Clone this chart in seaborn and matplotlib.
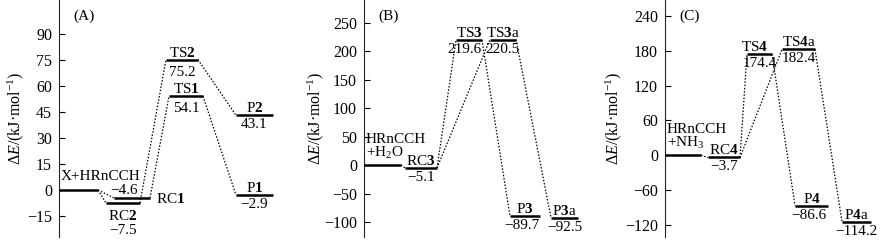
import matplotlib
matplotlib.use("Agg")
import matplotlib.pyplot as plt
import numpy as np
import pandas as pd
import seaborn as sns

# ---------------- data ----------------
# Panel A: X + HRnCCH
a_levels = ["start", "RC2", "RC1", "TS2", "TS1", "P2", "P1"]
a_energy = [0.0, -7.5, -4.6, 75.2, 54.1, 43.1, -2.9]
a_names = ["X+HRnCCH", r"RC$\mathbf{2}$", r"RC$\mathbf{1}$", r"TS$\mathbf{2}$",
           r"TS$\mathbf{1}$", r"P$\mathbf{2}$", r"P$\mathbf{1}$"]
a_paths = [("start", "RC2"), ("start", "RC1"), ("RC2", "TS2"), ("RC1", "TS1"),
           ("TS2", "P2"), ("TS1", "P1")]
a_ticks = [-15, 0, 15, 30, 45, 60, 75, 90]

# Panel B: HRnCCH + H2O
b_levels = ["start", "RC3", "TS3", "TS3a", "P3", "P3a"]
b_energy = [0.0, -5.1, 219.6, 220.5, -89.7, -92.5]
b_names = ["HRnCCH", r"RC$\mathbf{3}$", r"TS$\mathbf{3}$", r"TS$\mathbf{3}$a",
           r"P$\mathbf{3}$", r"P$\mathbf{3}$a"]
b_paths = [("start", "RC3"), ("RC3", "TS3"), ("RC3", "TS3a"), ("TS3", "P3"),
           ("TS3a", "P3a")]
b_ticks = [-100, -50, 0, 50, 100, 150, 200, 250]

# Panel C: HRnCCH + NH3
c_levels = ["start", "RC4", "TS4", "TS4a", "P4", "P4a"]
c_energy = [0.0, -3.7, 174.4, 182.4, -86.6, -114.2]
c_names = ["HRnCCH", r"RC$\mathbf{4}$", r"TS$\mathbf{4}$", r"TS$\mathbf{4}$a",
           r"P$\mathbf{4}$", r"P$\mathbf{4}$a"]
c_paths = [("start", "RC4"), ("RC4", "TS4"), ("RC4", "TS4a"), ("TS4", "P4"),
           ("TS4a", "P4a")]
c_ticks = [-120, -60, 0, 60, 120, 180, 240]

panel_tags = ["(A)", "(B)", "(C)"]
ylabel = r"Δ$E$/(kJ·mol$^{-1}$)"

# ---------------- layout (pixel offsets from each y-axis spine) ----------------
W, H, DPI = 886, 247, 100
a_span = {"start": (0, 39), "RC2": (47, 81), "RC1": (55, 91), "TS2": (107, 139),
          "TS1": (110, 144), "P2": (177, 214), "P1": (177, 214)}
b_span = {"start": (0, 37), "RC3": (41, 73), "TS3": (92, 118), "TS3a": (126, 152),
          "P3": (146, 176), "P3a": (187, 214)}
c_span = {"start": (0, 36), "RC4": (43, 75), "TS4": (82, 107), "TS4a": (117, 150),
          "P4": (130, 163), "P4a": (177, 206)}

panels = [
    dict(levels=a_levels, energy=a_energy, names=a_names, paths=a_paths, ticks=a_ticks,
         span=a_span, spine=59, right=290, ylim=(-27.1, 109.6), ylab_px=-33,
         start_extra=None, start_dy=10,
         name_over={"RC1": (6, -1, "left", "center"),
                    "RC2": (0, -6, "center", "top")},
         value_over={"RC1": (-8, 4, "center", "baseline"),
                     "RC2": (0, -21, "center", "top"),
                     "TS2": (0, -6, "center", "top"),
                     "TS1": (0, -6, "center", "top")}),
    dict(levels=b_levels, energy=b_energy, names=b_names, paths=b_paths, ticks=b_ticks,
         span=b_span, spine=364, right=590, ylim=(-126.4, 289.9), ylab_px=-38,
         start_extra=r"+H$_2$O", start_dy=22,
         name_over={}, value_over={"TS3": (-4, -3, "center", "top"),
                                   "P3": (-3, -3, "center", "top")}),
    dict(levels=c_levels, energy=c_energy, names=c_names, paths=c_paths, ticks=c_ticks,
         span=c_span, spine=665, right=886, ylim=(-140.7, 267.5), ylab_px=-41,
         start_extra=r"+NH$_3$", start_dy=22,
         name_over={"TS4": (-5, 3, "center", "baseline")},
         value_over={"P4": (-3, -3, "center", "top")}),
]

# ---------------- style ----------------
sns.set_theme(style="ticks")
plt.rcParams.update({
    "font.family": ["Liberation Serif", "DejaVu Serif"],
    "mathtext.fontset": "custom",
    "mathtext.rm": "Liberation Serif",
    "mathtext.it": "Liberation Serif:italic",
    "mathtext.bf": "Liberation Serif:bold",
    "axes.unicode_minus": True,
    "font.size": 11,
    "text.color": "black",
    "axes.labelcolor": "black",
    "xtick.color": "black",
    "ytick.color": "black",
})
FS = 11        # annotation text
FS_TICK = 11.5
FS_LAB = 11.5

fig = plt.figure(figsize=(W / DPI, H / DPI), dpi=DPI)

for p, tag in zip(panels, panel_tags):
    left, right = p["spine"], p["right"]
    ax = fig.add_axes([left / W, 10 / H, (right - left) / W, 237 / H])
    E = dict(zip(p["levels"], p["energy"]))

    # level bars
    rows = []
    for lv in p["levels"]:
        x0, x1 = p["span"][lv]
        rows += [dict(seg=lv, x=x0, E=E[lv]), dict(seg=lv, x=x1, E=E[lv])]
    df_lv = pd.DataFrame(rows)
    sns.lineplot(data=df_lv, x="x", y="E", units="seg", estimator=None, sort=False,
                 color="black", lw=1.8, solid_capstyle="butt", ax=ax, zorder=3)

    # dotted connectors
    rows = []
    for i, (a, b) in enumerate(p["paths"]):
        rows += [dict(seg=i, x=p["span"][a][1], E=E[a]),
                 dict(seg=i, x=p["span"][b][0], E=E[b])]
    df_cn = pd.DataFrame(rows)
    sns.lineplot(data=df_cn, x="x", y="E", units="seg", estimator=None, sort=False,
                 color="black", lw=0.9, linestyle=(0, (1.2, 1.4)), ax=ax, zorder=2)

    ax.set_xlim(0, right - left)
    ax.set_ylim(*p["ylim"])
    ax.set_yticks(p["ticks"])
    ax.set_xticks([])
    ax.set_xlabel("")
    ax.set_ylabel(ylabel, fontsize=FS_LAB)
    ax.yaxis.set_label_coords(p["ylab_px"] / (right - left), 0.5)
    sns.despine(ax=ax, bottom=True)
    ax.spines["left"].set_linewidth(0.8)
    ax.tick_params(axis="y", direction="in", length=4.5, width=0.8, pad=5,
                   labelsize=FS_TICK)
    ax.patch.set_alpha(0)

    # labels
    for lv, nm in zip(p["levels"], p["names"]):
        x0, x1 = p["span"][lv]
        xc = (x0 + x1) / 2
        e = E[lv]
        if lv == "start":
            ax.annotate(nm, xy=(x0, e), xytext=(2, p["start_dy"]),
                        textcoords="offset pixels", ha="left", va="baseline",
                        fontsize=FS)
            if p["start_extra"]:
                ax.annotate(p["start_extra"], xy=(x0, e), xytext=(2, 8),
                            textcoords="offset pixels", ha="left", va="baseline",
                            fontsize=FS)
            continue
        dx, dy, ha, va = p["name_over"].get(lv, (0, 3, "center", "baseline"))
        xa = x1 if ha == "left" else xc
        ax.annotate(nm, xy=(xa, e), xytext=(dx, dy), textcoords="offset pixels",
                    ha=ha, va=va, fontsize=FS)
        vtxt = f"{e:.1f}".replace("-", "\u2212")
        dx, dy, ha, va = p["value_over"].get(lv, (0, -3, "center", "top"))
        ax.annotate(vtxt, xy=(xc, e), xytext=(dx, dy), textcoords="offset pixels",
                    ha=ha, va=va, fontsize=FS)

    ax.annotate(tag, xy=(0, 1), xycoords="axes fraction", xytext=(14, -16),
                textcoords="offset pixels", ha="left", va="center", fontsize=FS)

fig.savefig("out.png", dpi=DPI)
